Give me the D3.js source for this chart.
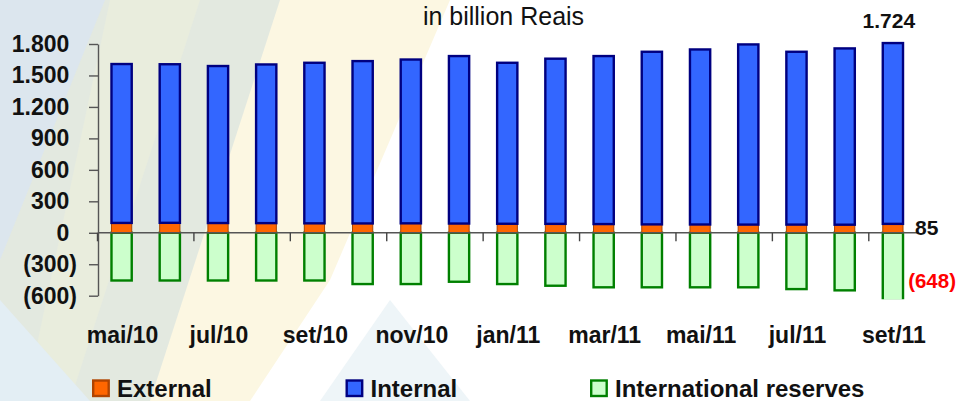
<!DOCTYPE html>
<html>
<head>
<meta charset="utf-8">
<script src="https://cdn.jsdelivr.net/npm/d3@7"></script>
<style>
  html, body { margin: 0; padding: 0; background: #fff; }
  svg { display: block; }
  text { font-family: "Liberation Sans", Arial, sans-serif; }
</style>
</head>
<body>
<svg id="chart" width="958" height="401"></svg>
<script>
const categories = ["mai/10","jun/10","jul/10","ago/10","set/10","out/10","nov/10","dez/10","jan/11","fev/11","mar/11","abr/11","mai/11","jun/11","jul/11","ago/11","set/11"];
const external = [94,95,93,92,90,89,90,88,86,85,83,80,79,78,78,77,85];
const internal = [1515,1512,1497,1513,1531,1548,1562,1597,1535,1575,1602,1646,1669,1718,1648,1681,1724];
const reserves = [-455,-455,-455,-455,-455,-489,-489,-467,-489,-505,-520,-520,-520,-520,-537,-549,-648];
const yTicks = [-600,-300,0,300,600,900,1200,1500,1800];
const yTickLabels = ["(600)","(300)","0","300","600","900","1.200","1.500","1.800"];
const seriesNames = ["External","Internal","International reserves"];
const title = "in billion Reais";

const svg = d3.select("#chart");

// background (decorative light rays)
const bg = svg.append("g");
bg.append("rect").attr("width",958).attr("height",401).attr("fill","#ffffff");
const polys = [
  {p:[[0,0],[290,0],[160,401],[0,401]], c:"#e3e9e0"},
  {p:[[280,0],[450,0],[330,280],[250,401],[150,401]], c:"#fcf7e2"},
  {p:[[110,0],[200,0],[70,401],[25,401]], c:"#e9eddd"},
  {p:[[0,0],[105,0],[0,260]], c:"#dce6ee"},
  {p:[[0,300],[90,401],[0,401]], c:"#e3eef4"},
  {p:[[390,300],[470,401],[320,401]], c:"#eef5f8"}
];
polys.forEach(o => bg.append("polygon").attr("points", o.p.map(d=>d.join(",")).join(" ")).attr("fill", o.c));

const x = d3.scaleBand().domain(categories).range([97.5, 917]).paddingInner(0.58).paddingOuter(0.29);
const y = d3.scaleLinear().domain([-600, 1800]).range([295.7, 44]);

const data = categories.map((c,i) => ({c, ext: external[i], int: internal[i], res: reserves[i]}));

svg.append("defs").append("clipPath").attr("id","plotclip")
  .append("rect").attr("x",0).attr("y",0).attr("width",958).attr("height", y(-600) + 3.5);

const bars = svg.append("g").attr("clip-path","url(#plotclip)");

bars.selectAll("rect.res").data(data).join("rect").attr("class","res")
  .attr("x", d => x(d.c)).attr("width", x.bandwidth())
  .attr("y", y(0)).attr("height", d => y(d.res) - y(0))
  .attr("fill","#ccffcc").attr("stroke","#008000").attr("stroke-width",2.4);

bars.selectAll("rect.ext").data(data).join("rect").attr("class","ext")
  .attr("x", d => x(d.c)).attr("width", x.bandwidth())
  .attr("y", d => y(d.ext)).attr("height", d => y(0) - y(d.ext))
  .attr("fill","#ff6600").attr("stroke","#a84400").attr("stroke-width",1);

bars.selectAll("rect.int").data(data).join("rect").attr("class","int")
  .attr("x", d => x(d.c)).attr("width", x.bandwidth())
  .attr("y", d => y(d.ext + d.int)).attr("height", d => y(d.ext) - y(d.ext + d.int))
  .attr("fill","#3366ff").attr("stroke","#000080").attr("stroke-width",2.4);

// y axis
const yAxis = d3.axisLeft(y).tickValues(yTicks).tickFormat((d,i) => yTickLabels[i])
  .tickSize(9).tickSizeOuter(0).tickPadding(12);
const ya = svg.append("g").attr("transform","translate(98,0)").call(yAxis);
ya.select(".domain").attr("stroke","#555").attr("stroke-width",1.4);
ya.selectAll(".tick line").attr("stroke","#555").attr("stroke-width",1.4);
ya.selectAll(".tick text").attr("font-size",23).attr("font-weight","bold").attr("fill","#111")
  .attr("font-family","Liberation Sans, Arial, sans-serif");
ya.selectAll(".tick text").each(function(d){
  if (d >= 0) d3.select(this).append("tspan").attr("fill-opacity",0).text(")");
});

// category axis along zero
const step = x.step();
const zx1 = x.range()[1];
svg.append("line").attr("x1", 98).attr("x2", zx1).attr("y1", y(0)).attr("y2", y(0))
  .attr("stroke","#555").attr("stroke-width",1.5);
const tickCats = categories.filter((c,i) => i % 2 === 0);
svg.append("g").selectAll("line").data(tickCats).join("line")
  .attr("x1", c => x(c) - step*x.paddingInner()/2).attr("x2", c => x(c) - step*x.paddingInner()/2)
  .attr("y1", y(0)).attr("y2", y(0) + 8.5).attr("stroke","#444").attr("stroke-width",1.4);
svg.append("g").selectAll("text").data(tickCats).join("text")
  .attr("x", c => x(c) + x.bandwidth()/2 + 1).attr("y", 342.5)
  .attr("text-anchor","middle").attr("font-size",23).attr("font-weight","bold").attr("fill","#111")
  .text(c => c);

// title
svg.append("text").attr("x", 503.5).attr("y", 25).attr("text-anchor","middle")
  .attr("font-size",25).attr("fill","#111").text(title);

// data labels for last month
const last = data[data.length-1];
const lx = x(last.c);
svg.append("text").attr("x", lx + x.bandwidth()/2 - 4).attr("y", y(last.ext + last.int) - 15)
  .attr("text-anchor","middle").attr("font-size",21).attr("font-weight","bold").attr("fill","#111")
  .text(d3.format(",")(last.int).replace(/,/g,"."));
svg.append("text").attr("x", lx + x.bandwidth() + 12).attr("y", y(0) + 2.5)
  .attr("font-size",21).attr("font-weight","bold").attr("fill","#111").text(last.ext);
svg.append("text").attr("x", 956).attr("y", 288).attr("text-anchor","end")
  .attr("font-size",20.5).attr("font-weight","bold").attr("fill","#ff0000")
  .text("(" + Math.abs(last.res) + ")");

// legend
const legend = [
  {name: seriesNames[0], fill:"#ff6600", stroke:"#b04400", x:92},
  {name: seriesNames[1], fill:"#3366ff", stroke:"#000080", x:345.5},
  {name: seriesNames[2], fill:"#ccffcc", stroke:"#008000", x:590}
];
const lg = svg.append("g").selectAll("g").data(legend).join("g");
lg.append("rect").attr("x", d => d.x + 1.2).attr("y", 380.5).attr("width", 15.5).attr("height", 15.5)
  .attr("fill", d => d.fill).attr("stroke", d => d.stroke).attr("stroke-width", 2.4);
lg.append("text").attr("x", d => d.x + 25).attr("y", 396.5)
  .attr("font-size",24).attr("font-weight","bold").attr("fill","#111").text(d => d.name);
</script>
</body>
</html>
